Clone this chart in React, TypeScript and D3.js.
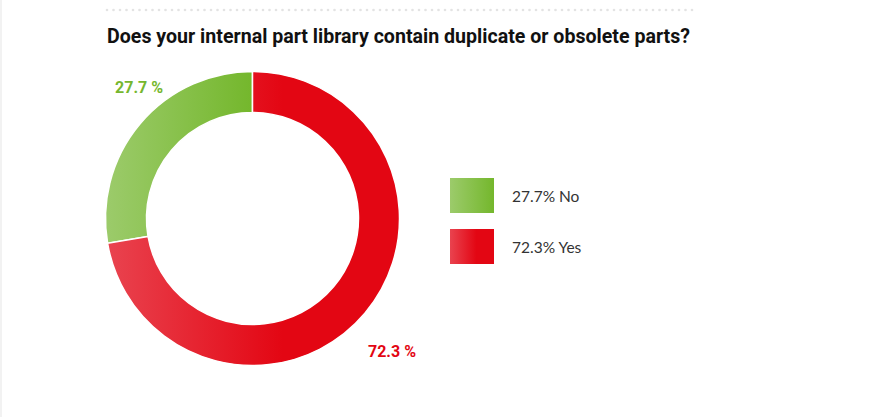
import React from "react";
import * as d3 from "d3";

const categories = ["No", "Yes"];
const values = [27.7, 72.3];
const legendLabels = ["27.7% No", "72.3% Yes"];
const sliceLabels = ["27.7 %", "72.3 %"];
const title = "Does your internal part library contain duplicate or obsolete parts?";

const colorsLight = ["#9ccb6b", "#e9434f"];
const colorsDark = ["#74b72c", "#e30613"];
const labelColors = ["#76b72e", "#e30613"];

const W = 889;
const H = 417;
const cx = 252.5;
const cy = 218.5;
const outerR = 147;
const innerR = 106;

export default function App() {
  const total = d3.sum(values);
  const startA = -(values[0] / total) * 2 * Math.PI;
  const pie = d3
    .pie<number>()
    .sort(null)
    .value((d) => d)
    .startAngle(startA)
    .endAngle(startA + 2 * Math.PI);
  const arcs = pie(values);
  const arc = d3.arc<d3.PieArcDatum<number>>().innerRadius(innerR).outerRadius(outerR);
  const labelArc = d3.arc<d3.PieArcDatum<number>>().innerRadius(172).outerRadius(172);
  const labelNudge = [
    [18, -20],
    [8, 22],
  ];

  const dots = d3.range(107, 695, 6.5);

  return (
    <svg
      width={W}
      height={H}
      style={{ position: "absolute", left: 0, top: 0, background: "#fff" }}
    >
      <defs>
        {categories.map((c, i) => (
          <linearGradient key={c} id={`g${i}`} x1="0" x2="1" y1="0" y2="0">
            <stop offset="0" stopColor={colorsLight[i]} />
            <stop offset={i === 1 ? "0.6" : "1"} stopColor={colorsDark[i]} />
            <stop offset="1" stopColor={colorsDark[i]} />
          </linearGradient>
        ))}
      </defs>
      <line x1={1} x2={1} y1={0} y2={H} stroke="#f2f2f2" strokeWidth={2} />
      {dots.map((x, i) => (
        <circle key={i} cx={x} cy={10} r={1.3} fill="#e3e3e3" />
      ))}
      <text
        x={107}
        y={43}
        fontFamily="Roboto, sans-serif"
        fontWeight={700}
        fontSize={19.6}
        fill="#111"
      >
        {title}
      </text>
      <g transform={`translate(${cx},${cy})`}>
        {arcs.map((a, i) => (
          <path key={i} d={arc(a) || ""} fill={`url(#g${i})`} stroke="#fff" strokeWidth={1.5} />
        ))}
        {arcs.map((a, i) => {
          const [lx, ly] = labelArc.centroid(a);
          return (
            <text
              key={i}
              x={lx + labelNudge[i][0]}
              y={ly + labelNudge[i][1]}
              textAnchor="middle"
              dominantBaseline="central"
              fontFamily="Roboto, sans-serif"
              fontWeight={700}
              fontSize={16}
              fill={labelColors[i]}
            >
              {sliceLabels[i]}
            </text>
          );
        })}
      </g>
      {categories.map((c, i) => (
        <g key={c} transform={`translate(450,${178 + i * 51})`}>
          <rect width={44} height={35} fill={`url(#g${i})`} />
          <text
            x={62}
            y={17.5}
            dominantBaseline="central"
            fontFamily="Lato, sans-serif"
            fontSize={15.5}
            fill="#333"
          >
            {legendLabels[i]}
          </text>
        </g>
      ))}
    </svg>
  );
}
